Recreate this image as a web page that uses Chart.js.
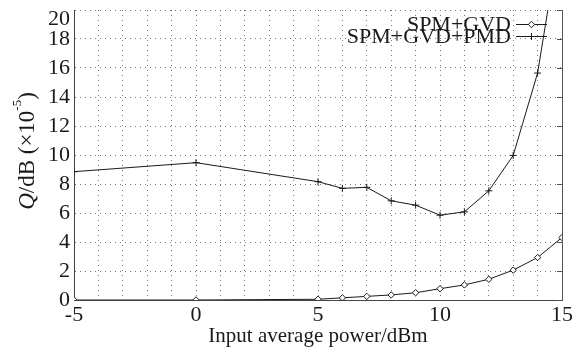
<!DOCTYPE html>
<html>
<head>
<meta charset="utf-8">
<script src="https://cdn.jsdelivr.net/npm/chart.js@4"></script>
<style>
  html, body { margin: 0; padding: 0; background: #fff; }
  #wrap { width: 577px; height: 349px; }
</style>
</head>
<body>
<div id="wrap"><canvas id="qChart"></canvas></div>
<script>
// Data
const powerDbm   = [-5, 0, 5, 6, 7, 8, 9, 10, 11, 12, 13, 14, 15];
const qSpmGvd    = [0, 0, 0.05, 0.15, 0.25, 0.35, 0.5, 0.78, 1.04, 1.43, 2.06, 2.93, 4.31];
const qSpmGvdPmd = [8.85, 9.47, 8.16, 7.7, 7.77, 6.84, 6.54, 5.85, 6.08, 7.53, 9.97, 15.65, 26];
const seriesNames = ['SPM+GVD', 'SPM+GVD+PMD'];
const xTickLabels = [-5, 0, 5, 10, 15];
const yTickLabels = [0, 2, 4, 6, 8, 10, 12, 14, 16, 18, 20];
const xTitle = 'Input average power/dBm';

const SERIF = "'Liberation Serif', 'Times New Roman', serif";
const INK = '#1a1a1a';

const toPoints = (ys) => powerDbm.map((x, i) => ({ x: x, y: ys[i] }));

// y axis title with italic Q and superscript exponent
const yTitlePlugin = {
    id: 'yTitle',
    afterDraw(chart) {
        const ctx = chart.ctx;
        const parts = [
            { t: 'Q', font: 'italic 23px ' + SERIF, dy: 0 },
            { t: '/dB (×10', font: '23px ' + SERIF, dy: 0 },
            { t: '-5', font: '13px ' + SERIF, dy: -10 },
            { t: ')', font: '23px ' + SERIF, dy: 0 }
        ];
        ctx.save();
        let total = 0;
        parts.forEach(p => { ctx.font = p.font; p.w = ctx.measureText(p.t).width; total += p.w; });
        ctx.translate(28, 151);
        ctx.rotate(-Math.PI / 2);
        ctx.fillStyle = INK;
        ctx.textBaseline = 'middle';
        let x = -total / 2;
        parts.forEach(p => {
            ctx.font = p.font;
            ctx.fillText(p.t, x, p.dy);
            x += p.w;
        });
        ctx.restore();
    }
};

// right frame line with inward ticks, plus the in-plot legend
const framePlugin = {
    id: 'frame',
    afterDraw(chart) {
        const ctx = chart.ctx;
        const area = chart.chartArea;
        const yScale = chart.scales.y;
        ctx.save();
        ctx.strokeStyle = '#555';
        ctx.lineWidth = 1;
        ctx.beginPath();
        ctx.moveTo(area.right + 0.5, area.top);
        ctx.lineTo(area.right + 0.5, area.bottom);
        yScale.ticks.forEach(t => {
            const py = Math.round(yScale.getPixelForValue(t.value)) + 0.5;
            ctx.moveTo(area.right, py);
            ctx.lineTo(area.right - 5, py);
        });
        ctx.stroke();

        // legend: text right-aligned, then a line sample with marker
        const rows = [24, 36];
        chart.data.datasets.forEach((ds, i) => {
            const y = rows[i];
            ctx.font = '22px ' + SERIF;
            ctx.fillStyle = INK;
            ctx.textAlign = 'right';
            ctx.textBaseline = 'middle';
            ctx.fillText(ds.label, 511, y + 1);
            ctx.strokeStyle = INK;
            ctx.beginPath();
            ctx.moveTo(516, y + 0.5);
            ctx.lineTo(547, y + 0.5);
            ctx.stroke();
            ctx.fillStyle = '#fff';
            Chart.helpers.drawPoint(ctx, {
                pointStyle: ds.pointStyle,
                radius: ds.pointRadius,
                borderWidth: 1,
                rotation: 0
            }, 531.5, y + 0.5);
        });
        ctx.restore();
    }
};

const tickFont = (c) => (c.tick && c.tick.value === 20)
    ? { family: SERIF, size: 22, lineHeight: 0.85 }
    : { family: SERIF, size: 22 };

new Chart(document.getElementById('qChart'), {
    type: 'line',
    data: {
        datasets: [
            {
                label: seriesNames[0],
                data: toPoints(qSpmGvd),
                borderColor: INK,
                borderWidth: 1,
                pointStyle: 'rectRot',
                pointRadius: 3.2,
                pointBackgroundColor: '#fff',
                pointBorderColor: INK,
                pointBorderWidth: 1,
                tension: 0
            },
            {
                label: seriesNames[1],
                data: toPoints(qSpmGvdPmd),
                borderColor: INK,
                borderWidth: 1,
                pointStyle: 'cross',
                pointRadius: 3.5,
                pointBorderColor: INK,
                pointBorderWidth: 1,
                tension: 0
            }
        ]
    },
    options: {
        responsive: true,
        maintainAspectRatio: false,
        animation: false,
        layout: { padding: { top: 10, right: 15, left: 0, bottom: 0 } },
        plugins: {
            legend: { display: false },
            tooltip: { enabled: false }
        },
        scales: {
            x: {
                type: 'linear',
                min: -5,
                max: 15,
                afterFit(scale) {
                    scale.height = 49;
                    scale.paddingLeft = 0;
                    scale.paddingRight = 0;
                },
                border: { display: true, color: '#444', width: 1, dash: [1, 4] },
                grid: { color: '#777', drawTicks: false, lineWidth: 1 },
                ticks: {
                    stepSize: 1,
                    autoSkip: false,
                    maxRotation: 0,
                    padding: 2,
                    color: INK,
                    font: { family: SERIF, size: 22 },
                    callback: (v) => xTickLabels.includes(v) ? String(v) : ''
                },
                title: {
                    display: true,
                    text: xTitle,
                    color: INK,
                    font: { family: SERIF, size: 21 },
                    padding: { top: 0, bottom: 0 }
                }
            },
            y: {
                min: 0,
                max: 20,
                afterFit(scale) {
                    scale.width = 74;
                    scale.paddingTop = 0;
                    scale.paddingBottom = 0;
                },
                border: { display: true, color: '#444', width: 1, dash: [1, 4] },
                grid: { color: '#777', drawTicks: false, lineWidth: 1 },
                ticks: {
                    stepSize: 2,
                    autoSkip: false,
                    padding: 4,
                    color: INK,
                    font: tickFont,
                    callback: (v) => !yTickLabels.includes(v) ? '' : (v === 20 ? ['', '20'] : String(v))
                }
            }
        }
    },
    plugins: [yTitlePlugin, framePlugin]
});
</script>
</body>
</html>
